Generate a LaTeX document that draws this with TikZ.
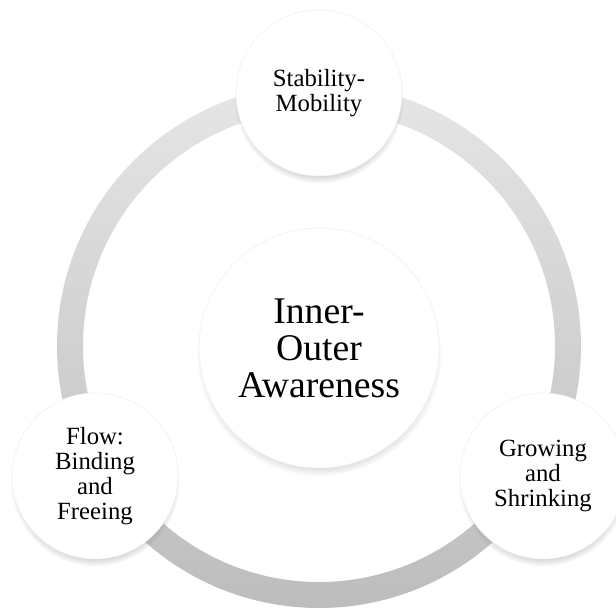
\documentclass[tikz,border=0pt]{standalone}
\usepackage{fontspec}
\setmainfont{Liberation Serif}
\usetikzlibrary{shadows}

\tikzstyle{hub} = [draw=gray!12, fill=white, circle, inner sep=0pt,
    minimum size=6cm, align=center, font=\fontsize{26.8}{26.4}\selectfont,
    circular drop shadow={shadow xshift=0pt, shadow yshift=-4pt, shadow scale=1.02, opacity=0.5}]
\tikzstyle{petal} = [draw=gray!12, fill=white, circle, inner sep=0pt,
    minimum size=4.15cm, align=center, font=\fontsize{17.6}{17.6}\selectfont,
    circular drop shadow={shadow xshift=0pt, shadow yshift=-4pt, shadow scale=1.02, opacity=0.5}]
\tikzstyle{band} = [top color=gray!20, bottom color=gray!52, even odd rule]

\begin{document}
\begin{tikzpicture}
    \useasboundingbox (-7.975,-6.725) rectangle (7.425,8.65);

    % grey ring behind everything
    \shade [band] (0,0) circle (6.55) (0,0) circle (5.9);

    \node [hub] at (0,-0.05) (aware) {Inner-\\Outer\\Awareness};

    \node [petal] at (0,6.325) (stab) {Stability-\\Mobility};
    \node [petal] at (-5.6,-3.25) (flow) {Flow:\\Binding\\and\\Freeing};
    \node [petal] at (5.6,-3.25) (grow) {Growing\\and\\Shrinking};
  \end{tikzpicture}
\end{document}
